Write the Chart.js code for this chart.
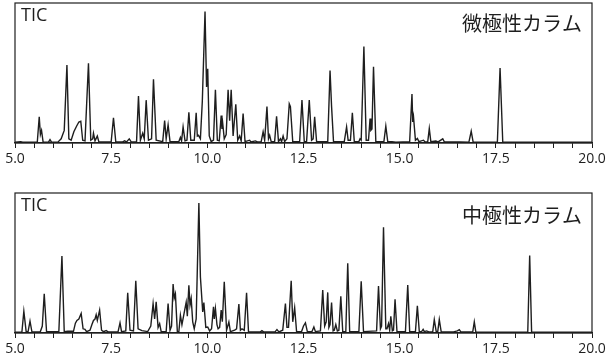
<!DOCTYPE html>
<html>
<head>
<meta charset="utf-8">
<script src="https://cdn.jsdelivr.net/npm/chart.js@4/dist/chart.umd.min.js"></script>
<style>
html,body{margin:0;padding:0;background:#fff;}
#w{position:relative;width:610px;height:360px;}
canvas{position:absolute;left:0;}
</style>
</head>
<body>
<div id="w">
<canvas id="c1" width="610" height="180" style="top:0"></canvas>
<canvas id="c2" width="610" height="170" style="top:190px"></canvas>
</div>
<script>
// ---- data (retention time in min, relative intensity) ----
const tickLabels = ['5.0','7.5','10.0','12.5','15.0','17.5','20.0'];
const labelTIC = 'TIC';
const titleTop = '微極性カラム';
const titleBottom = '中極性カラム';

const topTime = [5.00,5.15,5.20,5.58,5.63,5.66,5.69,5.73,5.87,5.91,5.95,6.12,6.20,6.28,6.35,6.40,6.46,6.53,6.60,6.66,6.71,6.76,6.82,6.91,6.97,7.02,7.04,7.08,7.14,7.18,7.50,7.56,7.62,7.80,7.85,7.90,7.97,8.02,8.16,8.21,8.26,8.32,8.36,8.41,8.47,8.55,8.60,8.67,8.84,8.89,8.93,8.98,9.03,9.26,9.30,9.33,9.37,9.42,9.47,9.52,9.57,9.66,9.71,9.74,9.77,9.82,9.87,9.94,9.98,10.01,10.05,10.10,10.16,10.21,10.26,10.31,10.36,10.38,10.40,10.44,10.49,10.54,10.58,10.62,10.67,10.74,10.79,10.84,10.88,10.93,10.98,11.10,11.13,11.25,11.30,11.40,11.45,11.49,11.55,11.59,11.62,11.66,11.75,11.80,11.85,11.90,11.93,11.97,12.01,12.07,12.13,12.16,12.22,12.40,12.46,12.52,12.58,12.65,12.71,12.75,12.79,12.84,13.13,13.19,13.23,13.28,13.56,13.62,13.66,13.72,13.77,13.82,13.94,13.97,14.00,14.07,14.13,14.19,14.23,14.25,14.28,14.32,14.38,14.59,14.64,14.69,14.80,14.90,15.26,15.32,15.34,15.36,15.41,15.46,15.50,15.62,15.66,15.73,15.77,15.81,15.94,16.00,16.12,16.16,16.57,16.80,16.86,16.91,17.54,17.61,17.68,20.00];
const topSignal = [0.6,1.0,0.6,0.6,18.7,6,9,0.8,0.6,2.4,0.6,0.8,3,9,55.7,3,2,8,12,15,15.5,2,1.5,57,2,3,7,1.5,5,0.8,0.8,18,0.8,0.8,1.5,0.8,3,0.8,1,33.5,2,7,3,30.6,2,3,45.5,2,1,16,3,13,1,1,4,1.5,11.5,1.5,2,22,2,2,21.5,5,5.5,3,30,94,40,53,5,1,2,38,2,1.5,19.6,10,14,3,6,38,16,38,5,27.7,2,5,1.5,21,1,2,0.8,1.5,0.8,1,8,2,26,3,5.5,1,1,19,1,3,1,5,1,3,28,26,1,1,30.6,1,1,30.6,2,3,18.7,1,1,51.7,26,1,1,11.5,2,2,21.5,1,1,3,2,69,2,2,17.5,9,10,54.5,1,1,12,1,1,0.6,1,35,15,18.7,2,3.3,1,2,0.8,1,10.3,1,1.4,0.8,3,0.8,0.7,0.6,8.4,0.6,0.6,53.6,0.6,0.6];

const bottomTime = [5.00,5.18,5.23,5.29,5.34,5.39,5.44,5.66,5.71,5.76,5.82,6.14,6.22,6.28,6.37,6.52,6.57,6.61,6.66,6.72,6.77,6.82,6.86,6.95,7.00,7.04,7.08,7.11,7.14,7.20,7.25,7.30,7.37,7.42,7.60,7.68,7.73,7.77,7.88,7.93,7.99,8.08,8.14,8.20,8.30,8.45,8.53,8.59,8.63,8.67,8.72,8.76,8.80,8.93,8.98,9.03,9.07,9.11,9.14,9.17,9.22,9.26,9.30,9.34,9.45,9.48,9.52,9.55,9.58,9.62,9.66,9.71,9.78,9.82,9.84,9.88,9.91,9.96,10.01,10.06,10.11,10.16,10.18,10.21,10.25,10.28,10.32,10.36,10.39,10.44,10.50,10.56,10.60,10.71,10.76,10.82,10.86,10.90,10.96,11.02,11.07,11.38,11.42,11.46,11.76,11.81,11.86,11.96,12.03,12.07,12.11,12.18,12.22,12.27,12.32,12.45,12.50,12.55,12.60,12.72,12.77,12.81,12.94,13.00,13.05,13.09,13.13,13.16,13.19,13.23,13.27,13.30,13.34,13.38,13.42,13.47,13.52,13.60,13.65,13.70,13.94,14.00,14.06,14.40,14.45,14.50,14.53,14.58,14.64,14.67,14.71,14.74,14.77,14.81,14.84,14.88,14.93,15.15,15.21,15.26,15.41,15.46,15.51,15.57,15.61,15.64,15.70,15.76,15.86,15.90,15.95,15.99,16.03,16.08,16.40,16.50,16.55,16.59,16.90,16.94,16.98,18.33,18.38,18.43,20.00];
const bottomSignal = [0.5,0.8,15.5,1,1,8.4,0.8,1,5,28,1,1,55,1,1.2,1.2,7,9,10,13.9,3,2.6,1,2,6,9,10,13,9,16.3,2,1,1.7,0.8,0.8,1,7.2,1,1.5,28.7,2,1.5,37.3,3,1.7,1,5,21,10,22.2,4,6.7,1,1,21,2,5,35,25,28,1,1,12.7,6,22,12,34,20,24.6,8,3,10,92.8,40,31.8,15,21.8,4,4.3,1.5,3,18.7,10,17.5,6,3,4,16.3,8,36.6,2,7.9,1,2,3,20.6,2,3,2,28.7,1,0.8,1.7,0.8,0.8,2.4,0.8,2,21,4,4,37.3,8,18,1,1,5,7.2,1,1,4.3,1,1.5,30.6,5,8,29,4,6,21.8,1.5,2,6,1.5,2,26.3,1,1,49.8,1,1,37,1,1.5,33.5,3,5,75.6,3,3,6.7,2,12,1.5,2,24,1,1,34.2,1,1,19.4,1,1,2.6,1,1.5,0.8,1,9.6,1,1,9.6,0.8,0.8,1.5,2.4,0.8,0.8,7.9,0.6,0.5,55.3,0.5,0.5];

// ---- drawing ----
const INK = '#1e1e1e';
const FONT = '"Open Sans", "DejaVu Sans", sans-serif';

function makeChart(id, times, values, title, titleY, xHeight) {
  const pts = times.map((t, i) => ({x: t, y: values[i]}));
  const deco = {
    id: 'deco',
    afterDraw(chart) {
      const {ctx, chartArea: a} = chart;
      ctx.save();
      ctx.strokeStyle = INK;
      ctx.lineWidth = 1.2;
      ctx.strokeRect(a.left, a.top, a.right - a.left, a.bottom - a.top);
      ctx.fillStyle = INK;
      ctx.textBaseline = 'middle';
      ctx.textAlign = 'left';
      ctx.font = '18px ' + FONT;
      ctx.fillText(labelTIC, a.left + 6, a.top + 13);
      ctx.textAlign = 'right';
      ctx.font = '20px "Noto Sans CJK JP", sans-serif';
      ctx.fillText(title, a.right - 10, a.top + titleY);
      ctx.restore();
    }
  };
  return new Chart(document.getElementById(id), {
    type: 'line',
    data: {datasets: [{data: pts, borderColor: INK, borderWidth: 1.4, pointRadius: 0, tension: 0, fill: false}]},
    options: {
      responsive: false,
      animation: false,
      layout: {padding: {left: 15, right: 18, top: 3, bottom: 0}},
      plugins: {legend: {display: false}, tooltip: {enabled: false}},
      scales: {
        x: {
          type: 'linear', min: 5, max: 20,
          afterFit(s) { s.height = xHeight; s.paddingLeft = 0; s.paddingRight = 0; },
          ticks: {
            stepSize: 0.5, autoSkip: false, maxRotation: 0, padding: 3,
            color: INK, font: {family: FONT, size: 14},
            callback(v) {
              const k = Math.round((v - 5) / 2.5 * 1000) / 1000;
              return Number.isInteger(k) ? tickLabels[k] : '';
            }
          },
          grid: {display: true, drawOnChartArea: false, drawTicks: true, tickLength: 5, color: INK, lineWidth: 1},
          border: {display: true, color: INK, width: 1.2}
        },
        y: {display: false, min: 0, max: 100}
      }
    },
    plugins: [deco]
  });
}

makeChart('c1', topTime, topSignal, titleTop, 20, 37);
makeChart('c2', bottomTime, bottomSignal, titleBottom, 22, 27);
</script>
</body>
</html>
